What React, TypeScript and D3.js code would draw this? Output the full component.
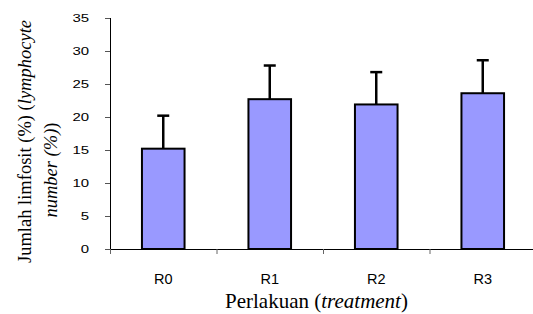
import React, { useEffect, useRef } from 'react';
import * as d3 from 'd3';

const categories = ['R0', 'R1', 'R2', 'R3'];
const means = [15.2, 22.7, 21.9, 23.6];
const errTops = [20.2, 27.8, 26.8, 28.6];
const yTicks = [0, 5, 10, 15, 20, 25, 30, 35];

const App: React.FC = () => {
  const svgRef = useRef<SVGSVGElement>(null);

  useEffect(() => {
    document.body.style.margin = '0';
    if (!svgRef.current) return;

    const W = 533;
    const H = 314;
    const left = 110;
    const top = 18;
    const bottom = 249;

    d3.select(svgRef.current).selectAll('*').remove();
    const svg = d3.select(svgRef.current).attr('width', W).attr('height', H);

    const x = d3.scaleBand<string>().domain(categories).range([left, 536]).padding(0);
    const y = d3.scaleLinear().domain([0, 35]).range([bottom, top]);

    const sans = '"Liberation Sans", Arial, sans-serif';
    const serif = '"Liberation Serif", "Times New Roman", serif';

    // y axis
    const yAxis = svg.append('g')
      .attr('transform', `translate(${left},0)`)
      .call(d3.axisLeft(y).tickValues(yTicks).tickSize(5));
    yAxis.selectAll('.tick text')
      .attr('x', 0)
      .attr('transform', 'translate(-21,0) scale(1.3,1)')
      .attr('font-family', sans).attr('font-size', 11.5).attr('fill', '#000');
    yAxis.selectAll('.tick line').attr('stroke', '#555');
    yAxis.select('.domain').attr('stroke', '#000').attr('d', `M0.5,${top}V${bottom}`);

    // x axis
    const xAxis = svg.append('g')
      .attr('transform', `translate(0,${bottom})`);
    xAxis.append('line').attr('x1', left).attr('x2', W).attr('y1', 0.5).attr('y2', 0.5)
      .attr('stroke', '#000').attr('stroke-width', 1.2);
    const xt = [...categories.map(c => x(c) as number), (x('R3') as number) + x.bandwidth()];
    xAxis.selectAll('line.tk').data(xt).enter().append('line')
      .attr('class', 'tk')
      .attr('x1', d => d + 0.5).attr('x2', d => d + 0.5)
      .attr('y1', 0).attr('y2', 5)
      .attr('stroke', '#666');
    xAxis.selectAll('text').data(categories).enter().append('text')
      .attr('x', d => (x(d) as number) + x.bandwidth() / 2)
      .attr('y', 35)
      .attr('text-anchor', 'middle')
      .attr('font-family', sans)
      .attr('font-size', 14.5)
      .text(d => d);

    const bw = x.bandwidth() * 0.4;
    const data = categories.map((c, i) => ({ c, v: means[i], e: errTops[i] }));

    // error bars
    const eb = svg.append('g');
    eb.selectAll('line.v').data(data).enter().append('line')
      .attr('x1', d => (x(d.c) as number) + x.bandwidth() / 2)
      .attr('x2', d => (x(d.c) as number) + x.bandwidth() / 2)
      .attr('y1', d => y(d.v))
      .attr('y2', d => y(d.e))
      .attr('stroke', '#000').attr('stroke-width', 2.5);
    eb.selectAll('line.cap').data(data).enter().append('line')
      .attr('x1', d => (x(d.c) as number) + x.bandwidth() / 2 - 6)
      .attr('x2', d => (x(d.c) as number) + x.bandwidth() / 2 + 6)
      .attr('y1', d => y(d.e))
      .attr('y2', d => y(d.e))
      .attr('stroke', '#000').attr('stroke-width', 2.5);

    // bars
    svg.append('g').selectAll('rect').data(data).enter().append('rect')
      .attr('x', d => (x(d.c) as number) + (x.bandwidth() - bw) / 2)
      .attr('y', d => y(d.v))
      .attr('width', bw)
      .attr('height', d => bottom - y(d.v))
      .attr('fill', '#9999FF')
      .attr('stroke', '#000')
      .attr('stroke-width', 2);

    // y title
    const t1 = svg.append('text')
      .attr('transform', 'translate(31,141.5) rotate(-90)')
      .attr('text-anchor', 'middle')
      .attr('font-family', serif)
      .attr('font-size', 18.5);
    t1.append('tspan').text('Jumlah limfosit (%) (');
    t1.append('tspan').attr('font-style', 'italic').text('lymphocyte');
    const t2 = svg.append('text')
      .attr('transform', 'translate(56.5,170) rotate(-90)')
      .attr('text-anchor', 'middle')
      .attr('font-family', serif)
      .attr('font-size', 18.5);
    t2.append('tspan').attr('font-style', 'italic').text('number (%)');
    t2.append('tspan').text(')');

    // x title
    const xt2 = svg.append('text')
      .attr('x', 316.5).attr('y', 308)
      .attr('text-anchor', 'middle')
      .attr('font-family', serif)
      .attr('font-size', 21);
    xt2.append('tspan').text('Perlakuan (');
    xt2.append('tspan').attr('font-style', 'italic').text('treatment');
    xt2.append('tspan').text(')');
  }, []);

  return <svg ref={svgRef} style={{ display: 'block' }}></svg>;
};

export default App;
